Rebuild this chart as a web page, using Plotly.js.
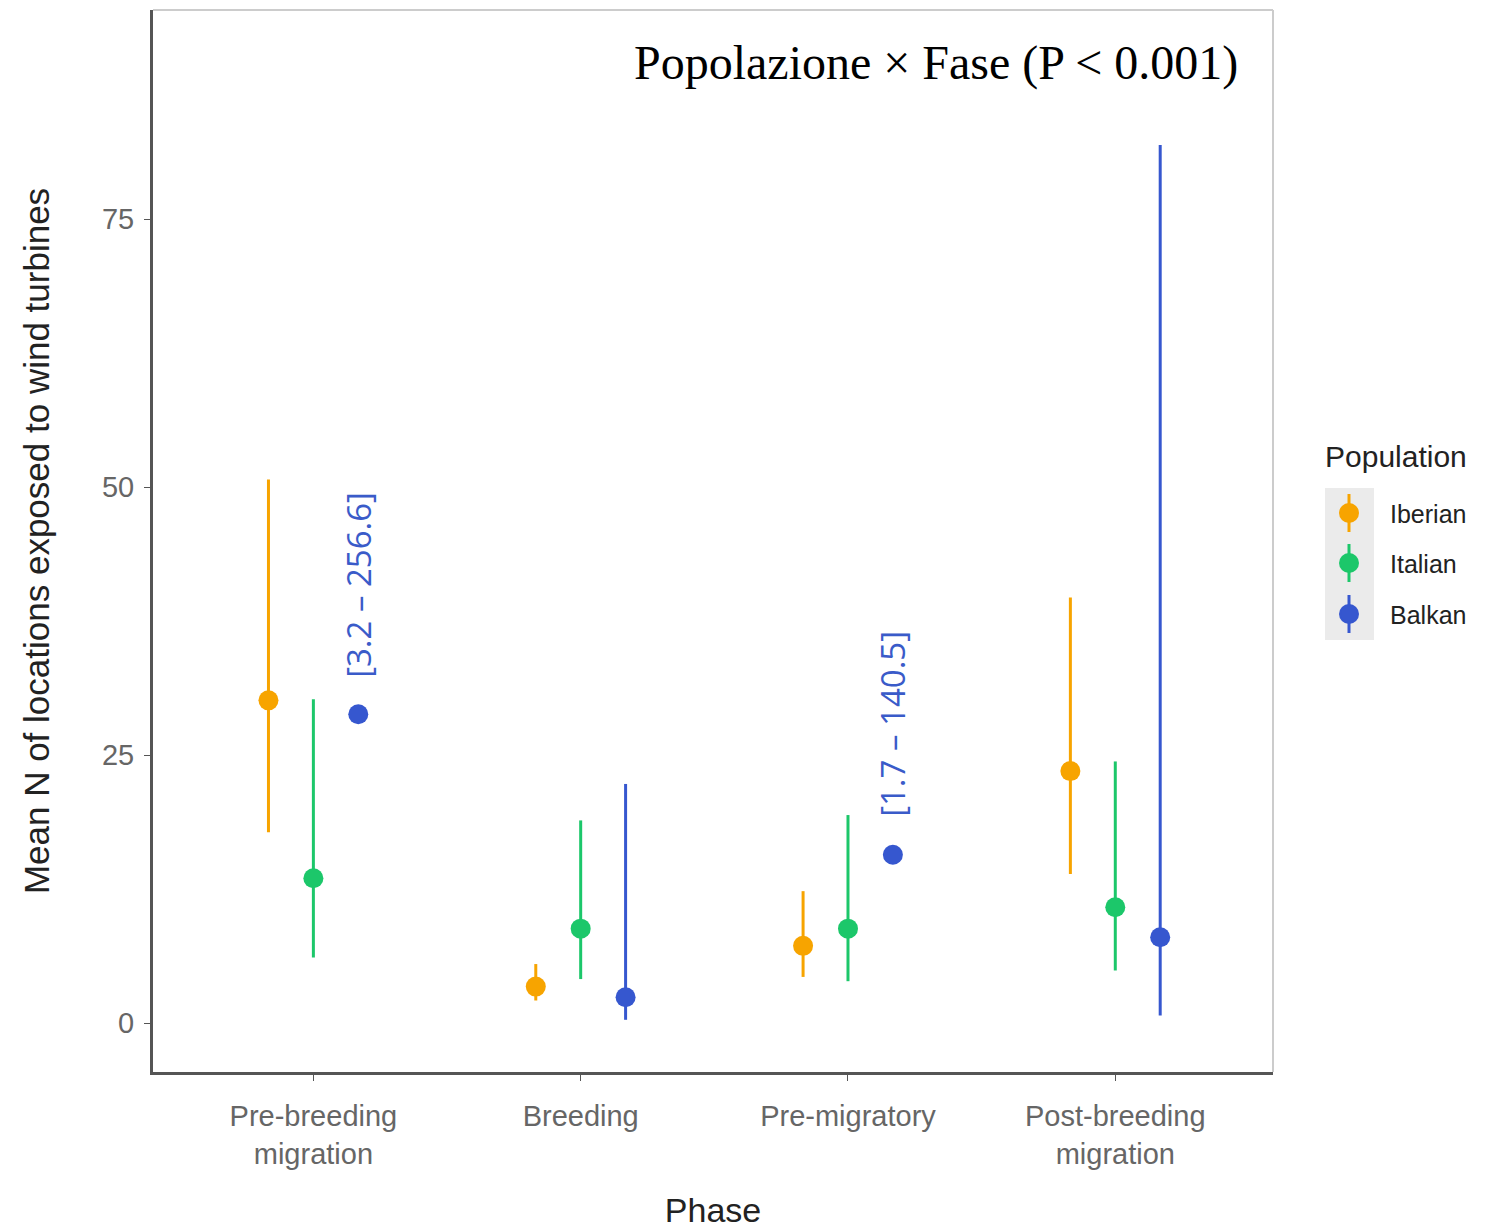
<!DOCTYPE html>
<html><head><meta charset="utf-8">
<script src="https://cdn.plot.ly/plotly-3.0.1.min.js"></script>
<style>body{margin:0;background:#fff}#c{width:1504px;height:1231px}</style>
</head><body><div id="c"></div>
<script>
// Data
const phases = ["Pre-breeding<br>migration", "Breeding", "Pre-migratory", "Post-breeding<br>migration"];
const populations = ["Iberian", "Italian", "Balkan"];
const iberianMean  = [30.1, 3.4, 7.2, 23.5];
const iberianLow   = [17.8, 2.1, 4.3, 13.9];
const iberianHigh  = [50.7, 5.5, 12.3, 39.7];
const italianMean  = [13.5, 8.8, 8.8, 10.8];
const italianLow   = [6.1, 4.1, 3.9, 4.9];
const italianHigh  = [30.2, 18.9, 19.4, 24.4];
const balkanMean   = [28.8, 2.4, 15.7, 8.0];
const balkanLow    = [null, 0.3, null, 0.7];
const balkanHigh   = [null, 22.3, null, 81.9];
const balkanCILabels = ["[3.2 \u2013 256.6]", null, "[1.7 \u2013 140.5]", null];
const balkanCILabelY = [40.9, null, 27.9, null];
const yTicks = [0, 25, 50, 75];
const titleText = "Popolazione \u00d7 Fase (P < 0.001)";
const legendTitle = "Population";

const colors = {Iberian: "#F7A400", Italian: "#1CC76A", Balkan: "#3657CF"};
const dodge = {Iberian: -0.168, Italian: 0, Balkan: 0.168};
const series = {
  Iberian: [iberianMean, iberianLow, iberianHigh],
  Italian: [italianMean, italianLow, italianHigh],
  Balkan: [balkanMean, balkanLow, balkanHigh]
};

const traces = populations.map(p => {
  const [m, lo, hi] = series[p];
  return {
    type: "scatter", mode: "markers", name: p, legendgroup: p,
    x: phases.map((_, i) => i + dodge[p]),
    y: m,
    marker: {color: colors[p], size: 20},
    error_y: {
      type: "data", symmetric: false,
      array: m.map((v, i) => hi[i] == null ? null : hi[i] - v),
      arrayminus: m.map((v, i) => lo[i] == null ? null : v - lo[i]),
      color: colors[p], thickness: 3, width: 0
    }
  };
});

const px = p => (p - 153) / 1120;
const py = p => (1072 - p) / 1062;

const annotations = [];
balkanCILabels.forEach((t, i) => {
  if (!t) return;
  annotations.push({
    x: i + dodge.Balkan, y: balkanCILabelY[i], xref: "x", yref: "y", text: t, showarrow: false,
    textangle: -90, font: {family: "Open Sans, sans-serif", size: 33, color: "#3A5BC9"}
  });
});
annotations.push({
  xref: "paper", yref: "paper", x: px(1240), y: py(63), xanchor: "right", yanchor: "middle",
  text: titleText, showarrow: false,
  font: {family: "Liberation Serif, Times New Roman, serif", size: 48, color: "#000"}
});
annotations.push({
  xref: "paper", yref: "paper", x: px(1323), y: py(457), xanchor: "left", yanchor: "middle",
  text: legendTitle, showarrow: false,
  font: {family: "Liberation Sans, Arial, sans-serif", size: 30, color: "#222"}
});

const shapes = [
  {type: "line", xref: "paper", yref: "paper", x0: 0, x1: 1, y0: 1, y1: 1, line: {color: "#cccccc", width: 2}},
  {type: "line", xref: "paper", yref: "paper", x0: 1, x1: 1, y0: 0, y1: 1, line: {color: "#cccccc", width: 2}},
  {type: "rect", xref: "paper", yref: "paper", x0: px(1325), x1: px(1374), y0: py(640), y1: py(488),
   fillcolor: "#ebebeb", line: {width: 0}, layer: "below"}
];
// legend key decorations: vertical line and full-size dot behind each legend symbol
[513, 563, 614].forEach((yy, k) => {
  const c = colors[populations[k]];
  shapes.push({type: "line", xref: "paper", yref: "paper", x0: px(1349), x1: px(1349),
    y0: py(yy + 19), y1: py(yy - 19), line: {color: c, width: 3}, layer: "below"});
  shapes.push({type: "circle", xref: "paper", yref: "paper", x0: px(1339), x1: px(1359),
    y0: py(yy + 10), y1: py(yy - 10), fillcolor: c, line: {width: 0}, layer: "below"});
});

const layout = {
  width: 1504, height: 1231,
  margin: {l: 153, r: 231, t: 10, b: 159},
  paper_bgcolor: "#fff", plot_bgcolor: "#fff",
  showlegend: true,
  font: {family: "Liberation Sans, Arial, sans-serif"},
  xaxis: {
    range: [-0.6, 3.59], tickvals: phases.map((_, i) => i), ticktext: phases,
    showgrid: false, zeroline: false, showline: true, linecolor: "#555", linewidth: 3,
    ticks: "outside", ticklen: 6, tickcolor: "#555", tickwidth: 1, ticklabelstandoff: 10,
    tickfont: {size: 29, color: "#666"},
    title: {text: "Phase", font: {size: 34, color: "#222"}, standoff: 30}
  },
  yaxis: {
    range: [-4.57, 94.5], tickvals: yTicks, ticktext: yTicks.map(String),
    showgrid: false, zeroline: false, showline: true, linecolor: "#555", linewidth: 3,
    ticks: "outside", ticklen: 6, tickcolor: "#555", tickwidth: 1, ticklabelstandoff: 4,
    tickfont: {size: 29, color: "#666"},
    title: {text: "Mean N of locations exposed to wind turbines", font: {size: 35, color: "#222"}, standoff: 42}
  },
  legend: {
    x: px(1308), y: py(490), xanchor: "left", yanchor: "top",
    font: {size: 25, color: "#222"}, bgcolor: "rgba(0,0,0,0)",
    itemsizing: "trace", itemwidth: 72, tracegroupgap: 15
  },
  annotations, shapes
};

Plotly.newPlot("c", traces, layout, {displayModeBar: false, staticPlot: true});
</script></body></html>
